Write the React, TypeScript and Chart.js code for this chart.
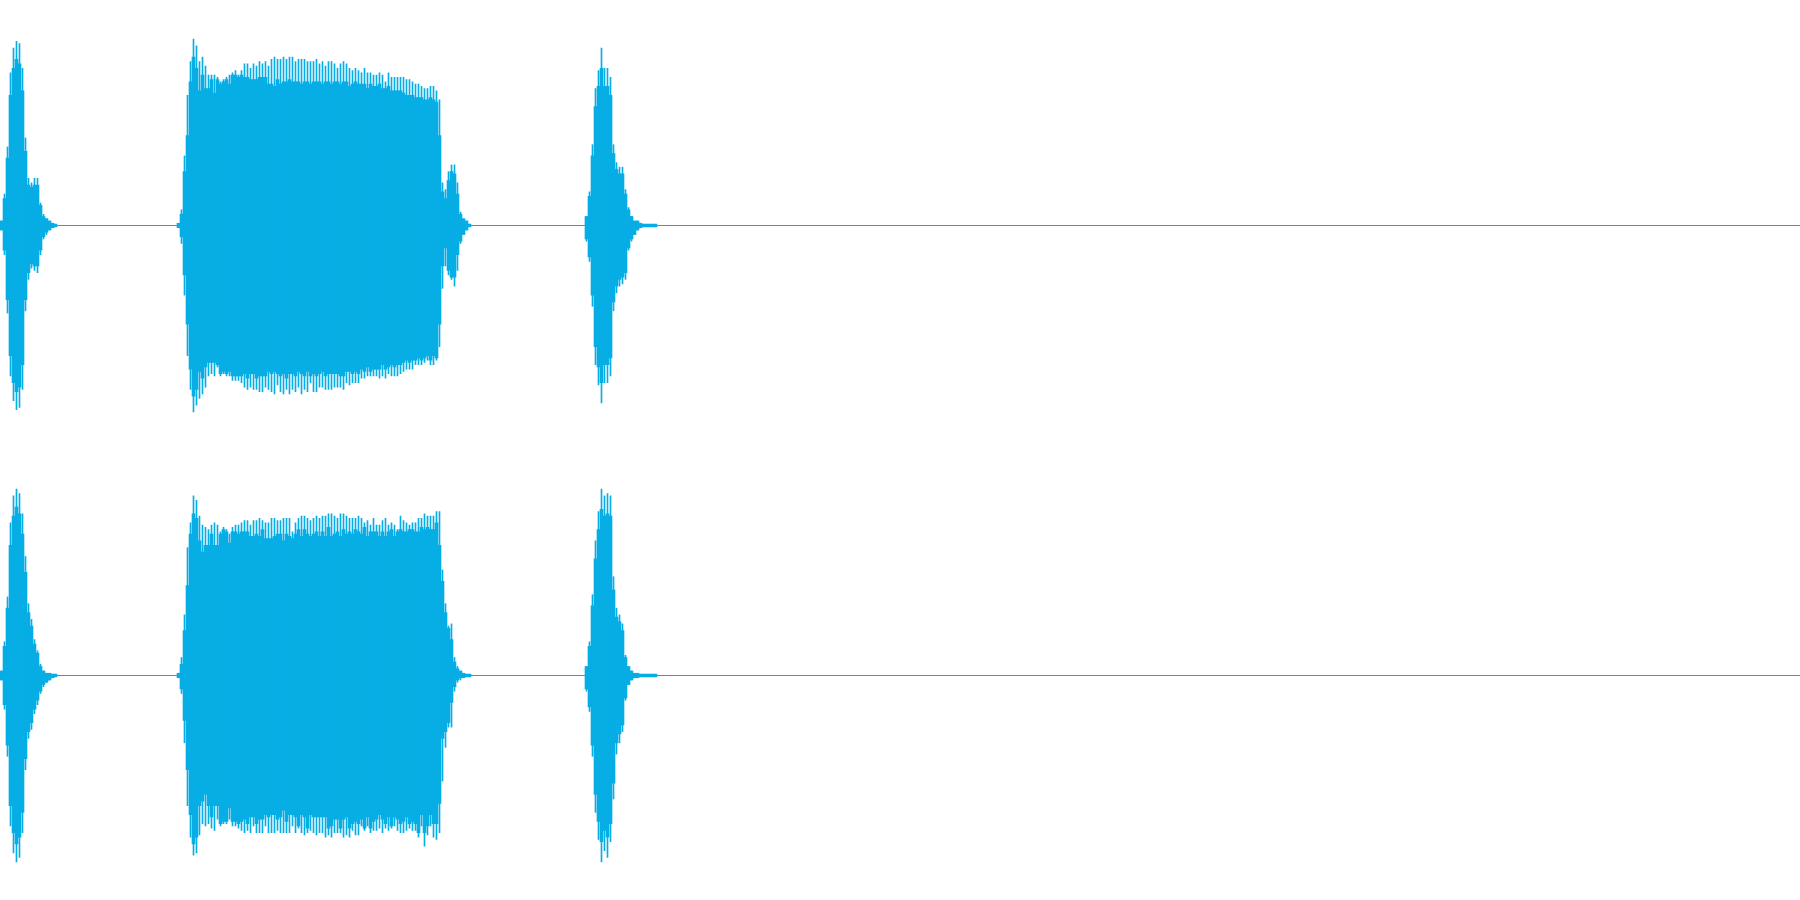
import { useEffect, useRef } from "react";
import { Chart, registerables } from "chart.js";

Chart.register(...registerables);

// Time axis (in sample-bucket units) and bucket width
const DURATION = 1800;
const BUCKET = 3;
const BURST_STARTS = [0, 177, 585];
const WAVE_COLOR = "#07aee5";

// ---- Channel 1 (top) : amplitude in % of full scale ----
const ch1Burst1PeakTop = [2, 14, 35, 68, 79, 82, 81, 70, 39, 21, 19, 21, 21, 10, 5, 3, 2, 1, 0.6];
const ch1Burst1PeakBot = [2, 13, 39, 67, 78, 82, 81, 73, 38, 24, 19, 20, 21, 13, 6, 4, 2, 1, 0.6];
const ch1Burst1BodyTop = [2, 12, 30, 58, 70, 74, 72, 60, 33, 18, 17, 18, 18, 9, 4, 3, 2, 1, 0.6];
const ch1Burst1BodyBot = [2, 11, 33, 58, 70, 74, 72, 62, 33, 21, 17, 18, 18, 11, 5, 3, 2, 1, 0.6];

const ch1Burst2PeakTop = [1, 7, 31, 58, 73, 83, 80, 73, 75, 71, 67, 67, 67, 66, 64, 65, 66, 67, 68, 69, 67, 69, 72, 72, 70, 72, 71, 73, 72, 73, 71, 74, 75, 74, 74, 75, 74, 75, 75, 73, 74, 74, 74, 73, 73, 73, 74, 72, 73,
  71, 73, 73, 72, 70, 72, 73, 72, 70, 69, 70, 69, 68, 70, 68, 68, 67, 67, 68, 67, 64, 68, 66, 66, 66, 66, 66, 65, 65, 64, 63, 63, 62, 61, 61, 62, 62, 60, 56, 19, 16, 24, 27, 27, 19, 6, 3, 2, 0.6];
const ch1Burst2BodyTop = [1, 5, 24, 40, 64, 75, 70, 60, 67, 61, 61, 65, 59, 65, 63, 64, 65, 63, 67, 67, 66, 67, 66, 66, 65, 65, 65, 66, 66, 66, 63, 63, 62, 65, 63, 64, 64, 65, 64, 64, 64, 63, 64, 64, 63, 64, 64, 64, 63,
  64, 64, 63, 64, 64, 63, 64, 64, 62, 63, 64, 63, 63, 63, 61, 63, 62, 62, 63, 61, 61, 62, 60, 60, 60, 60, 59, 58, 58, 58, 57, 57, 57, 56, 56, 57, 56, 55, 40, 15, 12, 20, 24, 23, 14, 5, 3, 2, 0.6];
const ch1Burst2PeakBot = [1, 8, 31, 58, 73, 83, 80, 77, 75, 72, 67, 66, 67, 63, 67, 66, 67, 67, 69, 69, 69, 70, 72, 73, 72, 73, 73, 74, 74, 72, 73, 74, 75, 71, 74, 75, 73, 75, 73, 74, 72, 75, 73, 74, 70, 74, 74, 72, 72, 73,
  73, 73, 72, 72, 72, 73, 70, 71, 70, 70, 70, 68, 68, 67, 67, 67, 67, 68, 67, 68, 66, 67, 67, 67, 66, 65, 64, 64, 64, 62, 62, 62, 61, 60, 62, 62, 60, 54, 28, 18, 22, 24, 27, 20, 8, 4, 2, 0.6];
const ch1Burst2BodyBot = [1, 5, 22, 44, 64, 76, 73, 65, 68, 63, 61, 61, 61, 62, 66, 65, 66, 65, 67, 67, 67, 67, 66, 68, 66, 66, 68, 67, 67, 67, 65, 66, 65, 66, 67, 66, 68, 66, 66, 67, 65, 66, 67, 65, 67, 66, 67, 66, 65, 67,
  66, 66, 66, 66, 67, 67, 65, 65, 66, 65, 66, 64, 65, 63, 65, 64, 64, 64, 62, 64, 63, 62, 63, 62, 62, 61, 60, 61, 60, 60, 59, 60, 59, 58, 60, 58, 59, 44, 18, 10, 20, 23, 23, 13, 7, 4, 2, 0.6];

const ch1Burst3PeakTop = [4, 15, 36, 61, 69, 79, 70, 70, 66, 36, 28, 26, 26, 16, 8, 4, 2, 2, 1, 0.6, 0.6, 0.6, 0.6, 0.6];
const ch1Burst3PeakBot = [7, 16, 36, 62, 71, 79, 70, 70, 67, 38, 30, 27, 26, 24, 11, 7, 4, 2, 1, 0.6, 0.6, 0.6, 0.6, 0.6];
const ch1Burst3BodyTop = [4, 13, 31, 53, 62, 70, 62, 62, 58, 32, 25, 23, 23, 14, 7, 4, 2, 2, 1, 0.6, 0.6, 0.6, 0.6, 0.6];
const ch1Burst3BodyBot = [6, 14, 31, 54, 63, 70, 62, 62, 59, 34, 27, 24, 23, 21, 10, 6, 4, 2, 1, 0.6, 0.6, 0.6, 0.6, 0.6];

// ---- Channel 2 (bottom) ----
const ch2Burst1PeakTop = [2, 15, 35, 68, 80, 83, 81, 72, 53, 32, 25, 16, 11, 5, 2, 1, 1, 0.6, 0.6];
const ch2Burst1PeakBot = [2, 15, 36, 67, 79, 83, 81, 70, 42, 28, 24, 17, 13, 8, 5, 3, 2, 1, 0.6];
const ch2Burst1BodyTop = [2, 13, 30, 58, 71, 75, 72, 63, 46, 28, 22, 14, 10, 4, 2, 1, 1, 0.6, 0.6];
const ch2Burst1BodyBot = [2, 13, 31, 58, 70, 75, 72, 61, 37, 25, 21, 15, 11, 7, 4, 3, 2, 1, 0.6];

const ch2Burst2PeakTop = [1, 8, 27, 57, 68, 80, 78, 71, 67, 66, 65, 67, 68, 67, 64, 66, 65, 63, 66, 67, 67, 68, 69, 69, 67, 69, 69, 70, 69, 68, 68, 70, 70, 69, 69, 70, 70, 70, 64, 68, 70, 71, 71, 70, 69, 70, 71, 70, 71, 71,
  72, 72, 71, 70, 72, 72, 71, 70, 70, 70, 71, 70, 68, 69, 67, 70, 67, 67, 69, 70, 67, 68, 67, 65, 71, 69, 68, 67, 68, 68, 70, 70, 72, 71, 71, 71, 73, 73, 47, 32, 22, 23, 8, 4, 2, 1, 0.6, 0.6];
const ch2Burst2BodyTop = [1, 5, 20, 40, 63, 72, 70, 60, 55, 58, 58, 63, 58, 58, 63, 65, 64, 59, 64, 64, 63, 64, 64, 64, 62, 62, 63, 62, 65, 61, 61, 61, 62, 63, 63, 60, 63, 62, 61, 63, 65, 62, 65, 63, 62, 63, 64, 62, 64, 62,
  66, 62, 63, 64, 62, 65, 63, 64, 63, 65, 64, 63, 66, 62, 64, 64, 64, 62, 64, 62, 64, 65, 62, 64, 65, 64, 64, 65, 65, 64, 64, 66, 65, 66, 65, 65, 68, 58, 42, 28, 21, 16, 6, 3, 2, 1, 0.6, 0.6];
const ch2Burst2PeakBot = [1, 8, 30, 58, 72, 80, 79, 71, 66, 67, 66, 68, 69, 64, 67, 66, 66, 64, 67, 67, 68, 69, 70, 69, 70, 67, 70, 70, 70, 67, 70, 70, 70, 69, 70, 70, 70, 70, 67, 70, 68, 70, 71, 70, 69, 70, 71, 70, 70, 72,
  71, 72, 70, 70, 70, 72, 71, 72, 69, 71, 71, 67, 69, 67, 70, 69, 69, 68, 70, 68, 69, 68, 67, 69, 70, 70, 69, 68, 69, 69, 72, 67, 76, 71, 67, 72, 73, 70, 47, 32, 23, 23, 7, 3, 2, 1, 0.6, 0.6];
const ch2Burst2BodyBot = [1, 6, 20, 42, 62, 75, 72, 58, 56, 53, 58, 63, 58, 58, 66, 65, 65, 59, 65, 65, 66, 65, 64, 66, 63, 63, 66, 64, 64, 62, 63, 62, 62, 64, 63, 60, 65, 62, 62, 63, 67, 62, 63, 68, 62, 63, 63, 63, 63, 63,
  68, 67, 64, 64, 68, 64, 63, 68, 66, 65, 66, 64, 68, 63, 68, 65, 64, 62, 64, 66, 63, 67, 63, 64, 66, 65, 63, 66, 65, 66, 70, 62, 70, 67, 62, 66, 66, 57, 28, 25, 21, 12, 5, 2, 1, 1, 0.6, 0.6];

const ch2Burst3PeakTop = [4, 15, 36, 60, 73, 83, 80, 81, 80, 44, 30, 27, 23, 9, 4, 2, 1, 1, 0.6, 0.6, 0.6, 0.6, 0.6, 0.6];
const ch2Burst3PeakBot = [7, 16, 36, 61, 73, 83, 78, 81, 74, 55, 35, 30, 25, 11, 4, 2, 1, 1, 0.6, 0.6, 0.6, 0.6, 0.6, 0.6];
const ch2Burst3BodyTop = [4, 13, 31, 52, 65, 74, 71, 72, 71, 38, 26, 24, 20, 8, 4, 2, 1, 1, 0.6, 0.6, 0.6, 0.6, 0.6, 0.6];
const ch2Burst3BodyBot = [6, 14, 31, 53, 65, 74, 69, 72, 66, 48, 30, 26, 22, 10, 4, 2, 1, 1, 0.6, 0.6, 0.6, 0.6, 0.6, 0.6];

type Pair = [number[], number[]];
type Channel = { body: Pair[]; peaks: Pair[] };

const channel1: Channel = {
  body: [[ch1Burst1BodyTop, ch1Burst1BodyBot], [ch1Burst2BodyTop, ch1Burst2BodyBot], [ch1Burst3BodyTop, ch1Burst3BodyBot]],
  peaks: [[ch1Burst1PeakTop, ch1Burst1PeakBot], [ch1Burst2PeakTop, ch1Burst2PeakBot], [ch1Burst3PeakTop, ch1Burst3PeakBot]],
};
const channel2: Channel = {
  body: [[ch2Burst1BodyTop, ch2Burst1BodyBot], [ch2Burst2BodyTop, ch2Burst2BodyBot], [ch2Burst3BodyTop, ch2Burst3BodyBot]],
  peaks: [[ch2Burst1PeakTop, ch2Burst1PeakBot], [ch2Burst2PeakTop, ch2Burst2PeakBot], [ch2Burst3PeakTop, ch2Burst3PeakBot]],
};

function toBars(parts: Pair[]) {
  const out: { x: number; y: [number, number] }[] = [];
  parts.forEach(([top, bot], b) => {
    top.forEach((t, i) => {
      out.push({ x: BURST_STARTS[b] + BUCKET * i + BUCKET / 2, y: [-bot[i], t] });
    });
  });
  return out;
}

function WaveChannel({ channel }: { channel: Channel }) {
  const ref = useRef<HTMLCanvasElement | null>(null);
  useEffect(() => {
    if (!ref.current) return;
    const chart = new Chart(ref.current, {
      type: "bar",
      data: {
        datasets: [
          {
            type: "line",
            data: [
              { x: 0, y: 0 },
              { x: DURATION, y: 0 },
            ],
            borderColor: WAVE_COLOR,
            borderWidth: 1,
            pointRadius: 0,
            order: 3,
          } as any,
          {
            type: "bar",
            data: toBars(channel.body),
            backgroundColor: WAVE_COLOR,
            borderWidth: 0,
            barThickness: BUCKET,
            grouped: false,
            order: 2,
          } as any,
          {
            type: "bar",
            data: toBars(channel.peaks),
            backgroundColor: WAVE_COLOR,
            borderWidth: 0,
            barThickness: 1,
            grouped: false,
            order: 1,
          } as any,
        ],
      },
      options: {
        responsive: false,
        animation: false,
        devicePixelRatio: 1,
        layout: { padding: { top: 1, bottom: 0, left: 0, right: 0 } },
        plugins: { legend: { display: false }, tooltip: { enabled: false } },
        scales: {
          x: { type: "linear", min: 0, max: DURATION, offset: false, display: false },
          y: { min: -100, max: 100, display: false },
        },
      },
    });
    return () => chart.destroy();
  }, [channel]);
  return <canvas ref={ref} width={1800} height={450} style={{ display: "block" }} />;
}

export default function App() {
  useEffect(() => {
    document.body.style.margin = "0";
    document.body.style.background = "#ffffff";
    document.body.style.overflow = "hidden";
  }, []);
  return (
    <div style={{ width: 1800, height: 900, background: "#ffffff" }}>
      <WaveChannel channel={channel1} />
      <WaveChannel channel={channel2} />
    </div>
  );
}
